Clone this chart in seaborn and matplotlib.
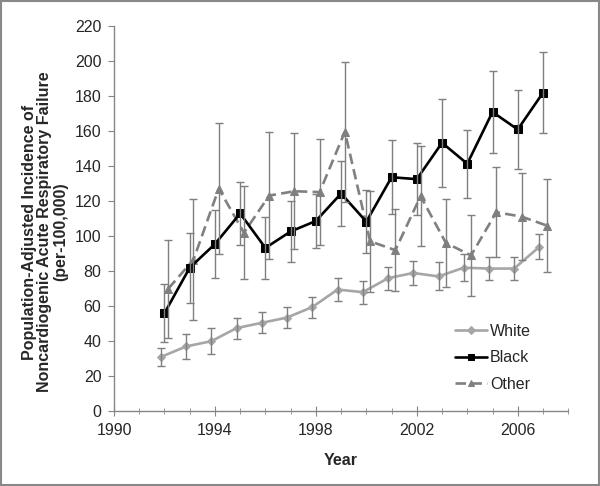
import matplotlib
matplotlib.use("Agg")
import matplotlib.pyplot as plt
import seaborn as sns
import numpy as np
from matplotlib.patches import Rectangle
from matplotlib.ticker import MultipleLocator

# Values
years = np.arange(1992, 2008)
white = [31, 37, 40, 47.5, 50.5, 53.5, 59.5, 69.5, 68, 76, 79, 77, 82, 81.5, 81.5, 94]
white_err = [5, 7, 7.5, 6, 6, 5.8, 6, 6.5, 6.5, 6.6, 7, 8, 7.6, 6.7, 6.7, 7.3]
black = [56, 82, 95.5, 113, 93.3, 102.7, 108.7, 124.4, 108.3, 133.7, 132.6,
         153.4, 141.4, 171, 161, 182]
black_err = [16.5, 20, 19.6, 18, 17.9, 17.3, 15.4, 18.6, 18, 21, 20.6, 25,
             19.3, 23.5, 22.8, 23.3]
other = [70, 86.5, 127.2, 102, 123.2, 125.7, 125.2, 159.7, 97.1, 92, 122.9,
         96.2, 89, 113.7, 111.2, 106.1]
other_err = [28, 34.5, 37.5, 26.6, 36.3, 33, 30.5, 40, 29, 23.5, 28.7, 25.3,
             23.2, 25.7, 25, 26.5]
xticks = [1990, 1994, 1998, 2002, 2006]

sns.set_style("white")
plt.rcParams['font.family'] = ['Liberation Sans', 'DejaVu Sans']

fig = plt.figure(figsize=(6, 4.86), dpi=100)
ax = fig.add_axes([0.19, 0.154, 0.757, 0.792])

# name, values, errors, colour, marker, linestyle, x-offset, zorder
series = [
    ("Other", other, other_err, "#808080", "^", (0, (4, 2)), 0.15, 2),
    ("White", white, white_err, "#a6a6a6", "D", "-", -0.14, 3),
    ("Black", black, black_err, "black", "s", "-", 0.0, 4),
]

for name, vals, errs, col, mk, ls, dx, z in series:
    xs = years + dx
    sns.lineplot(x=xs, y=vals, ax=ax, color=col, marker=mk, linestyle=ls,
                 linewidth=1.9, markersize=5.5 if mk != "D" else 4.5,
                 markeredgecolor=col, label=name, zorder=z)
    eb = ax.errorbar(xs, vals, yerr=errs, fmt="none", ecolor="#7f7f7f",
                     elinewidth=1, capsize=3, capthick=1, zorder=5)
    for cap in eb[1]:
        cap.set_color("#404040")

ax.set_xlim(1990, 2008)
ax.set_ylim(0, 220)
ax.set_xticks(xticks)
ax.xaxis.set_minor_locator(MultipleLocator(1))
ax.yaxis.set_major_locator(MultipleLocator(20))

for s in ["top", "right"]:
    ax.spines[s].set_visible(False)
for s in ["left", "bottom"]:
    ax.spines[s].set_color("#868686")
    ax.spines[s].set_linewidth(1)

ax.tick_params(axis="x", which="major", direction="inout", length=7,
               color="#868686", labelsize=11.5, pad=5, bottom=True)
ax.tick_params(axis="x", which="minor", direction="inout", length=5,
               color="#868686", bottom=True)
ax.tick_params(axis="y", direction="out", length=4, color="#868686",
               labelsize=11.5, pad=5, left=True)

ax.set_xlabel("Year", fontsize=11.5, fontweight="bold", labelpad=11)
ax.set_ylabel("Population-Adjusted Incidence of\n"
              "Noncardiogenic Acute Respiratory Failure\n(per-100,000)",
              fontsize=11.5, fontweight="bold", va="center", linespacing=1.05)
ax.yaxis.set_label_coords(-0.152, 0.465)

h, l = ax.get_legend_handles_labels()
order = [l.index("White"), l.index("Black"), l.index("Other")]
ax.legend([h[i] for i in order], [l[i] for i in order], frameon=False,
          loc="lower left", bbox_to_anchor=(0.751, 0.05), borderpad=0,
          handlelength=2.0, handletextpad=0.2, labelspacing=0.72,
          fontsize=11.5, borderaxespad=0, markerscale=0.8)

# grey frame round the whole picture
fig.patches.append(Rectangle((0.002, 0.002), 0.996, 0.996,
                             transform=fig.transFigure, fill=False,
                             edgecolor="#888888", linewidth=1.5))

plt.savefig("out.png", dpi=100)
